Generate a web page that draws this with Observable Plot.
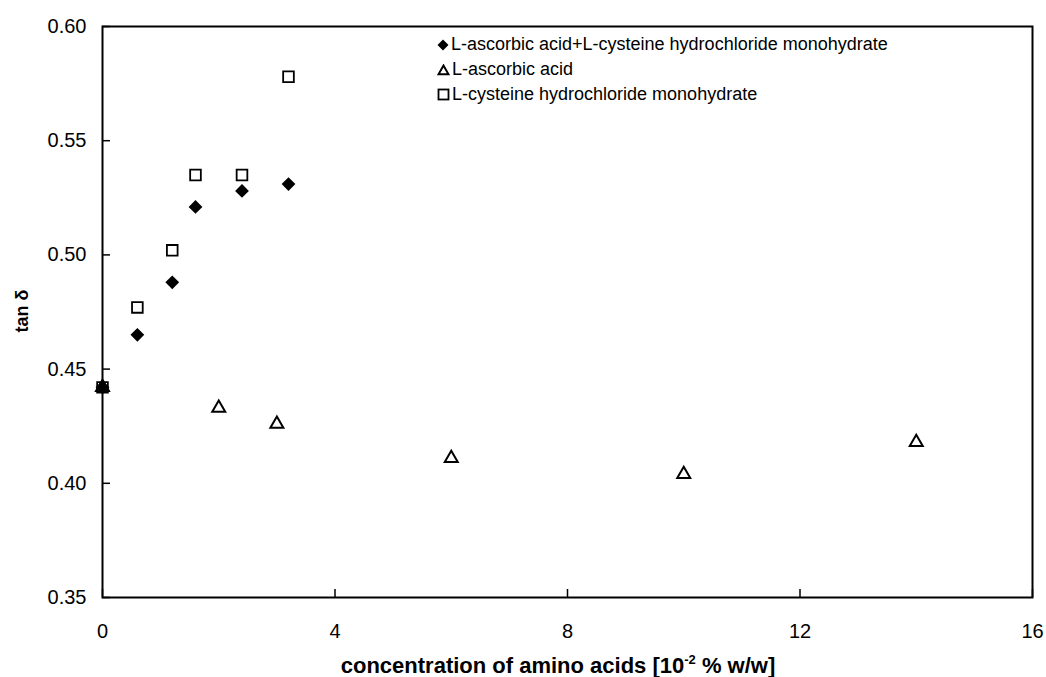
<!DOCTYPE html>
<html><head><meta charset="utf-8">
<script src="https://cdn.jsdelivr.net/npm/d3@7"></script>
<script src="https://cdn.jsdelivr.net/npm/@observablehq/plot@0.6"></script>
<style>
body{margin:0;background:#fff;font-family:"Liberation Sans",Arial,sans-serif;}
#wrap{position:relative;width:1046px;height:677px;overflow:hidden;}
#legend{position:absolute;left:437px;top:32px;font-size:18px;line-height:25px;color:#000;}
#legend div{display:flex;align-items:center;height:25px;}
#legend svg{margin-right:2px;}
#xlabel{position:absolute;left:0;width:1116px;top:653px;text-align:center;font-weight:bold;font-size:22px;}
#xlabel sup{font-size:13px;vertical-align:9px;line-height:0;}
#ylabel{position:absolute;left:22px;top:311px;transform:translate(-50%,-50%) rotate(-90deg);font-weight:bold;font-size:18px;white-space:nowrap;}
</style></head><body><div id="wrap"></div>
<script>
const seriesNames = ["L-ascorbic acid+L-cysteine hydrochloride monohydrate", "L-ascorbic acid", "L-cysteine hydrochloride monohydrate"];
const combinedX = [0, 0.6, 1.2, 1.6, 2.4, 3.2];
const combinedY = [0.442, 0.465, 0.488, 0.521, 0.528, 0.531];
const ascorbicX = [0, 2, 3, 6, 10, 14];
const ascorbicY = [0.442, 0.433, 0.426, 0.411, 0.404, 0.418];
const cysteineX = [0, 0.6, 1.2, 1.6, 2.4, 3.2];
const cysteineY = [0.442, 0.477, 0.502, 0.535, 0.535, 0.578];
const xTicks = [0, 4, 8, 12, 16];
const yTicks = [0.35, 0.40, 0.45, 0.50, 0.55, 0.60];
const xLabel = "concentration of amino acids [10";
const xLabelSup = "-2";
const xLabelEnd = " % w/w]";
const yLabel = "tan δ";

const toRows = (xs, ys) => xs.map((x, i) => ({x, y: ys[i]}));
const combined = toRows(combinedX, combinedY);
const ascorbic = toRows(ascorbicX, ascorbicY);
const cysteine = toRows(cysteineX, cysteineY);

const W = 1046, H = 677, ML = 102, MR = 14, MT = 26, MB = 80, TICK = 8;
const xDomain = [0, 16], yDomain = [0.35, 0.60];
// inward tick length expressed in data units of each scale
const tickDX = (xDomain[1] - xDomain[0]) * TICK / (W - ML - MR);
const tickDY = (yDomain[1] - yDomain[0]) * TICK / (H - MT - MB);

const chart = Plot.plot({
  width: W, height: H,
  marginLeft: ML, marginRight: MR, marginTop: MT, marginBottom: MB,
  style: {fontFamily: "'Liberation Sans', Arial, sans-serif", fontSize: "20px", color: "#000", background: "#fff"},
  x: {domain: xDomain, axis: null},
  y: {domain: yDomain, axis: null},
  marks: [
    Plot.axisX(xTicks, {anchor: "bottom", tickSize: 0, tickPadding: 26, tickFormat: d3.format("d"), label: null, fontSize: 20}),
    Plot.axisY(yTicks, {anchor: "left", tickSize: 0, tickPadding: 16, tickFormat: d3.format(".2f"), label: null, fontSize: 20}),
    Plot.frame({stroke: "#000", strokeWidth: 2}),
    Plot.ruleX(xTicks, {x: d => d, y1: () => yDomain[0], y2: () => yDomain[0] + tickDY, stroke: "#000", strokeWidth: 1.5}),
    Plot.ruleY(yTicks, {y: d => d, x1: () => xDomain[0], x2: () => xDomain[0] + tickDX, stroke: "#000", strokeWidth: 1.5}),
    Plot.dot(ascorbic, {x: "x", y: "y", symbol: "triangle2", r: 6.2, stroke: "#000", strokeWidth: 2, fill: "none"}),
    Plot.dot(cysteine, {x: "x", y: "y", symbol: "square2", r: 6.8, stroke: "#000", strokeWidth: 1.8, fill: "none"}),
    Plot.dot(combined, {x: "x", y: "y", symbol: "diamond2", r: 6.2, fill: "#000", stroke: "none"})
  ]
});
const wrap = document.getElementById("wrap");
wrap.appendChild(chart);

const sym = [
  '<svg width="12" height="12" viewBox="-6 -6 12 12"><path d="M0,-5.5L5.5,0L0,5.5L-5.5,0Z" fill="#000"/></svg>',
  '<svg width="13" height="12" viewBox="-6.5 -6 13 12"><path d="M0,-4.5L5,4.3L-5,4.3Z" fill="none" stroke="#000" stroke-width="2"/></svg>',
  '<svg width="13" height="13" viewBox="-6.5 -6.5 13 13"><rect x="-5" y="-5" width="10" height="10" fill="none" stroke="#000" stroke-width="1.8"/></svg>'
];
const leg = document.createElement("div");
leg.id = "legend";
leg.innerHTML = seriesNames.map((n, i) => `<div>${sym[i]}<span>${n}</span></div>`).join("");
wrap.appendChild(leg);

const xl = document.createElement("div");
xl.id = "xlabel";
xl.innerHTML = `${xLabel}<sup>${xLabelSup}</sup>${xLabelEnd}`;
wrap.appendChild(xl);

const yl = document.createElement("div");
yl.id = "ylabel";
yl.textContent = yLabel;
wrap.appendChild(yl);
</script>
</body></html>
